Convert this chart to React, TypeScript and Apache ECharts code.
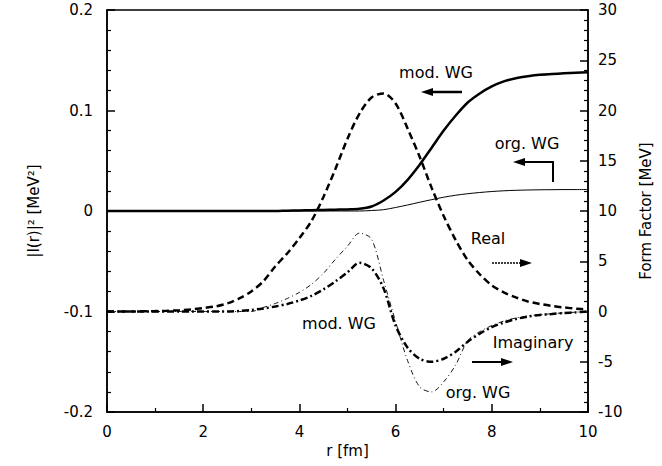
import React, { useEffect, useRef } from "react";
import * as echarts from "echarts";

// radius grid [fm]
const rValues = [
  0, 0.25, 0.5, 0.75, 1, 1.25, 1.5, 1.75, 2, 2.25, 2.5, 2.75, 3, 3.25, 3.5, 3.75, 4, 4.25, 4.5, 4.75,
  5, 5.25, 5.5, 5.75, 6, 6.25, 6.5, 6.75, 7, 7.25, 7.5, 7.75, 8, 8.25, 8.5, 8.75, 9, 9.25, 9.5, 9.75, 10,
];

// |I(r)|^2 [MeV^2] (left axis)
const modWGIntegral = [
  0, 0, 0, 0, 0, 0, 0, 0, 0, 0, 0, 0, 0, 0, 0, 0.0003, 0.0005, 0.0008, 0.001, 0.0013,
  0.0016, 0.0022, 0.0045, 0.0105, 0.019, 0.031, 0.046, 0.063, 0.08, 0.095, 0.108, 0.117, 0.124, 0.129, 0.132, 0.134,
  0.1355, 0.1363, 0.137, 0.1375, 0.138,
];
const orgWGIntegral = [
  0, 0, 0, 0, 0, 0, 0, 0, 0, 0, 0, 0, 0, 0, 0, 0, 0, 0, 0, 0,
  0, 0, 0.0005, 0.0013, 0.0035, 0.006, 0.0087, 0.0113, 0.0137, 0.0157, 0.0172, 0.0184, 0.0194, 0.0201, 0.0206, 0.0209,
  0.0211, 0.0212, 0.0213, 0.0213, 0.0214,
];

// Form factor [MeV] (right axis)
const realFF = [
  0, 0, 0, 0.02, 0.04, 0.07, 0.12, 0.2, 0.35, 0.5, 0.8, 1.3, 2.0, 3.0, 4.5, 5.8, 7.3, 9.0, 11.4, 14.2,
  17.2, 19.7, 21.3, 21.7, 20.7, 18.2, 15.4, 12.3, 9.5, 7.1, 5.1, 3.7, 2.6, 1.9, 1.4, 1.0,
  0.75, 0.55, 0.4, 0.28, 0.2,
];
const imagModWG = [
  0, 0, 0, 0, 0, 0, 0, 0, 0, 0, 0, 0.05, 0.15, 0.3, 0.5, 0.75, 1.1, 1.55, 2.2, 3.0,
  3.9, 4.85, 4.3, 2.3, -1.4, -3.6, -4.7, -5.0, -4.7, -4.0, -3.0, -2.2, -1.55, -1.1, -0.75, -0.5,
  -0.35, -0.25, -0.15, -0.08, 0,
];
const imagOrgWG = [
  0, 0, 0, 0, 0, 0, 0, 0, 0, 0, 0, 0, 0, 0.4, 0.8, 1.3, 1.9, 2.7, 3.8, 5.2,
  6.5, 7.8, 7.2, 3.1, -1.0, -4.9, -7.5, -8.0, -7.0, -5.3, -2.9, -2.0, -1.4, -0.95, -0.65, -0.45,
  -0.32, -0.22, -0.14, -0.07, 0,
];

const FONT = "DejaVu Sans";

const pairs = (ys: number[]) => rValues.map((r, i) => [r, ys[i]]);

export default function App() {
  const ref = useRef<HTMLDivElement>(null);
  useEffect(() => {
    if (!ref.current) return;
    const chart = echarts.init(ref.current, null, { renderer: "svg" });
    const axisCommon = {
      axisLine: { show: true, onZero: false, lineStyle: { color: "#000", width: 1.5 } },
      axisTick: { show: true, inside: true, length: 8, lineStyle: { color: "#000", width: 1.5 } },
      minorTick: { show: true, length: 4, lineStyle: { color: "#000", width: 1.2 } },
      splitLine: { show: false },
      minorSplitLine: { show: false },
    };
    const txt = (text: string, x: number, y: number) => ({
      type: "text",
      x,
      y,
      style: { text, fill: "#000", fontSize: 16, fontFamily: FONT, align: "center", verticalAlign: "middle" },
    });
    const arrowHead = (tipX: number, y: number, dir: number) => ({
      type: "polygon",
      shape: { points: [[tipX, y], [tipX - dir * 12, y - 4], [tipX - dir * 12, y + 4]] },
      style: { fill: "#000" },
    });
    chart.setOption({
      animation: false,
      backgroundColor: "#fff",
      grid: { left: 107, right: 74, top: 10, bottom: 54, show: true, borderColor: "#000", borderWidth: 1.5 },
      xAxis: {
        type: "value",
        min: 0,
        max: 10,
        interval: 2,
        ...axisCommon,
        minorTick: { ...axisCommon.minorTick, splitNumber: 2 },
        axisLabel: { color: "#000", fontSize: 15, fontFamily: FONT, margin: 12 },
        name: "r [fm]",
        nameLocation: "middle",
        nameGap: 28,
        nameTextStyle: { color: "#000", fontSize: 15, fontFamily: FONT },
      },
      yAxis: [
        {
          type: "value",
          position: "left",
          min: -0.2,
          max: 0.2,
          interval: 0.1,
          ...axisCommon,
          minorTick: { ...axisCommon.minorTick, splitNumber: 5 },
          axisLabel: { color: "#000", fontSize: 15, fontFamily: FONT, margin: 14 },
          name: "|I(r)|² [MeV²]",
          nameLocation: "middle",
          nameGap: 66,
          nameTextStyle: { color: "#000", fontSize: 15, fontFamily: FONT },
        },
        {
          type: "value",
          position: "right",
          min: -10,
          max: 30,
          interval: 5,
          ...axisCommon,
          minorTick: { ...axisCommon.minorTick, splitNumber: 5 },
          axisLabel: { color: "#000", fontSize: 15, fontFamily: FONT, margin: 10 },
          name: "Form Factor [MeV]",
          nameLocation: "middle",
          nameGap: 50,
          nameRotate: 90,
          nameTextStyle: { color: "#000", fontSize: 15, fontFamily: FONT },
        },
      ],
      series: [
        {
          name: "|I|² mod. WG",
          type: "line",
          yAxisIndex: 0,
          data: pairs(modWGIntegral),
          symbol: "none",
          smooth: 0.3,
          lineStyle: { color: "#000", width: 2.5 },
        },
        {
          name: "|I|² org. WG",
          type: "line",
          yAxisIndex: 0,
          data: pairs(orgWGIntegral),
          symbol: "none",
          smooth: 0.3,
          lineStyle: { color: "#000", width: 1 },
        },
        {
          name: "Real",
          type: "line",
          yAxisIndex: 1,
          data: pairs(realFF),
          symbol: "none",
          smooth: 0.3,
          lineStyle: { color: "#000", width: 2.5, type: [7, 4] },
        },
        {
          name: "Imaginary mod. WG",
          type: "line",
          yAxisIndex: 1,
          data: pairs(imagModWG),
          symbol: "none",
          smooth: 0.3,
          lineStyle: { color: "#000", width: 2.5, type: [7, 3, 2, 3] },
        },
        {
          name: "Imaginary org. WG",
          type: "line",
          yAxisIndex: 1,
          data: pairs(imagOrgWG),
          symbol: "none",
          smooth: 0.3,
          lineStyle: { color: "#000", width: 0.9, type: [5, 3, 1, 3] },
        },
      ],
      graphic: [
        txt("mod. WG", 436, 72),
        { type: "line", shape: { x1: 462, y1: 92, x2: 430, y2: 92 }, style: { stroke: "#000", lineWidth: 2.5 } },
        arrowHead(421, 92, -1),
        txt("org. WG", 527, 143),
        {
          type: "polyline",
          shape: { points: [[553, 182], [553, 162], [522, 162]] },
          style: { stroke: "#000", lineWidth: 2, fill: null },
        },
        arrowHead(513, 162, -1),
        txt("Real", 488, 238),
        { type: "line", shape: { x1: 492, y1: 263, x2: 523, y2: 263 }, style: { stroke: "#000", lineWidth: 1.5, lineDash: [2, 1] } },
        arrowHead(532, 263, 1),
        txt("mod. WG", 339, 323),
        txt("Imaginary", 533, 342),
        { type: "line", shape: { x1: 472, y1: 362, x2: 505, y2: 362 }, style: { stroke: "#000", lineWidth: 2 } },
        arrowHead(513, 362, 1),
        txt("org. WG", 478, 392),
      ],
    });
    return () => chart.dispose();
  }, []);
  return <div ref={ref} style={{ position: "fixed", left: 0, top: 0, width: 662, height: 466, background: "#fff" }} />;
}
